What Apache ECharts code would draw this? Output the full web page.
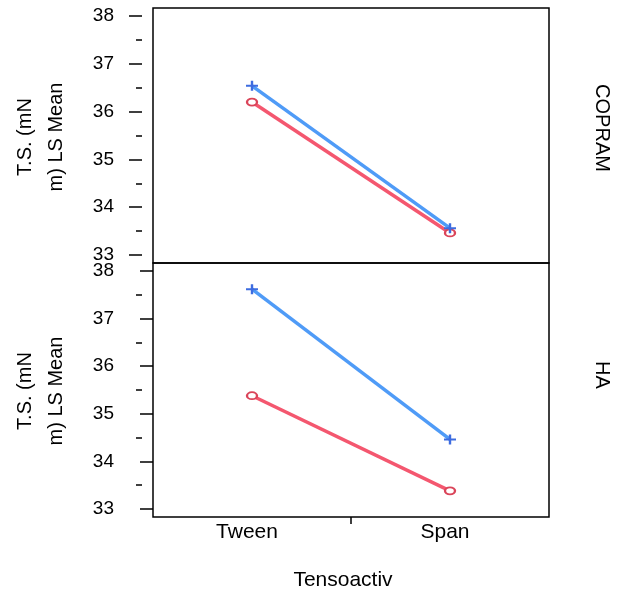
<!DOCTYPE html>
<html>
<head>
<meta charset="utf-8">
<script src="https://cdn.jsdelivr.net/npm/echarts@6/dist/echarts.min.js"></script>
<style>
html,body{margin:0;padding:0;background:#fff;}
#chart{width:619px;height:592px;}
</style>
</head>
<body>
<div id="chart"></div>
<script>
// ---- data ----
const categories = ['Tween', 'Span'];
const panels = ['COPRAM', 'HA'];
const copramBlue = [36.54, 33.56];
const copramRed = [36.20, 33.46];
const haBlue = [37.62, 34.46];
const haRed = [35.38, 33.38];
const yTicks = [33, 34, 35, 36, 37, 38];
const yMinorTicks = [33.5, 34.5, 35.5, 36.5, 37.5];
const xMidTick = [1];
const yTitle = 'T.S. (mN\nm) LS Mean';
const xTitle = 'Tensoactiv';

// ---- styles ----
const FONT = '"Liberation Sans", Arial, Helvetica, sans-serif';
const BLUE = '#4F9BF7';
const BLUE_MK = '#3D6CE0';
const RED = '#F4576F';
const RED_MK = '#DA4459';
const YMIN = 32.83, YMAX = 38.17;
const plusPath = 'path://M4,0h2v4h4v2h-4v4h-2v-4h-4v-2h4z';

const grids = [
  {left: 153, width: 396, top: 8, height: 255},
  {left: 153, width: 396, top: 263, height: 254}
].map(g => Object.assign(g, {show: true, borderColor: '#000', borderWidth: 1.5, backgroundColor: 'transparent'}));

function mainY(gi) {
  return {
    type: 'value', gridIndex: gi, min: YMIN, max: YMAX, offset: 11,
    axisLine: {show: false},
    splitLine: {show: false},
    axisTick: {show: true, length: 13, customValues: yTicks, lineStyle: {color: '#000', width: 1.5}},
    axisLabel: {show: true, customValues: yTicks, margin: 28, color: '#000', fontSize: 19, fontFamily: FONT}
  };
}
function minorY(gi) {
  return {
    type: 'value', gridIndex: gi, min: YMIN, max: YMAX, offset: 11, position: 'left',
    axisLine: {show: false},
    splitLine: {show: false},
    axisTick: {show: true, length: 6, customValues: yMinorTicks, lineStyle: {color: '#000', width: 1.5}},
    axisLabel: {show: false}
  };
}

function lineSeries(name, data, xi, yi, color, mkColor, isPlus) {
  return {
    type: 'line', name: name, data: data, xAxisIndex: xi, yAxisIndex: yi,
    symbol: isPlus ? plusPath : 'circle',
    symbolSize: isPlus ? [12, 10] : [10, 7],
    showAllSymbol: true,
    lineStyle: {color: color, width: 3.5},
    itemStyle: isPlus ? {color: mkColor} : {color: '#fff', borderColor: mkColor, borderWidth: 2},
    z: isPlus ? 3 : 2,
    animation: false,
    silent: true
  };
}

const option = {
  animation: false,
  backgroundColor: '#fff',
  grid: grids,
  xAxis: [
    {type: 'category', gridIndex: 0, data: categories, boundaryGap: true, show: false},
    {type: 'category', gridIndex: 1, data: categories, boundaryGap: true,
     axisLine: {show: false}, axisTick: {show: false},
     axisLabel: {color: '#000', fontSize: 21, fontFamily: FONT, margin: 5, padding: [0, 10, 0, 0]},
     name: xTitle, nameLocation: 'middle', nameGap: 53,
     nameTextStyle: {color: '#000', fontSize: 21, fontFamily: FONT, padding: [0, 16, 0, 0]}},
    {type: 'value', gridIndex: 1, min: 0, max: 2, position: 'bottom',
     axisLine: {show: false}, splitLine: {show: false}, axisLabel: {show: false},
     axisTick: {show: true, inside: false, length: 7, customValues: xMidTick, lineStyle: {color: '#000', width: 1.5}}}
  ],
  yAxis: [mainY(0), mainY(1), minorY(0), minorY(1)],
  series: [
    lineSeries('COPRAM red', copramRed, 0, 0, RED, RED_MK, false),
    lineSeries('COPRAM blue', copramBlue, 0, 0, BLUE, BLUE_MK, true),
    lineSeries('HA red', haRed, 1, 1, RED, RED_MK, false),
    lineSeries('HA blue', haBlue, 1, 1, BLUE, BLUE_MK, true)
  ],
  graphic: [
    {type: 'text', x: 41, y: 137, rotation: Math.PI / 2,
     style: {text: yTitle, fill: '#000', font: '20px ' + FONT, align: 'center', verticalAlign: 'middle', lineHeight: 31}},
    {type: 'text', x: 41, y: 391, rotation: Math.PI / 2,
     style: {text: yTitle, fill: '#000', font: '20px ' + FONT, align: 'center', verticalAlign: 'middle', lineHeight: 31}},
    {type: 'text', x: 602, y: 128, rotation: -Math.PI / 2,
     style: {text: panels[0], fill: '#000', font: '20px ' + FONT, align: 'center', verticalAlign: 'middle'}},
    {type: 'text', x: 602, y: 375, rotation: -Math.PI / 2,
     style: {text: panels[1], fill: '#000', font: '20px ' + FONT, align: 'center', verticalAlign: 'middle'}}
  ]
};

const chart = echarts.init(document.getElementById('chart'), null, {renderer: 'canvas'});
chart.setOption(option);
</script>
</body>
</html>
